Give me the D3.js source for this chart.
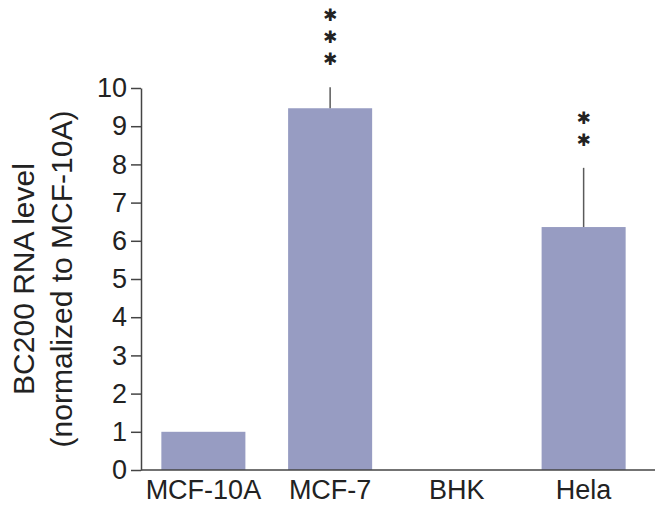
<!DOCTYPE html>
<html>
<head>
<meta charset="utf-8">
<script src="https://cdn.jsdelivr.net/npm/d3@7"></script>
<style>
  html, body { margin: 0; padding: 0; background: #fff; }
  svg { display: block; }
  text { font-family: "Liberation Sans", Arial, sans-serif; fill: #222; }
</style>
</head>
<body>
<svg id="chart" width="667" height="516"></svg>
<script>
const categories = ["MCF-10A", "MCF-7", "BHK", "Hela"];
const values = [1.0, 9.47, 0, 6.36];
const errorTops = [null, 10.02, null, 7.91];
const stars = [0, 3, 0, 2];
const yTicks = [0, 1, 2, 3, 4, 5, 6, 7, 8, 9, 10];
const yTitle = ["BC200 RNA level", "(normalized to MCF-10A)"];

const svg = d3.select("#chart");
const mLeft = 141, mRight = 655, mTop = 88, mBottom = 470;

const x = d3.scaleBand().domain(categories).range([140, 647]).paddingInner(0.337).paddingOuter(0.1685);
const y = d3.scaleLinear().domain([0, 10]).range([mBottom, mTop]);

// bars
svg.append("g").selectAll("rect").data(categories).join("rect")
  .attr("x", d => x(d))
  .attr("width", x.bandwidth())
  .attr("y", (d, i) => y(values[i]))
  .attr("height", (d, i) => y(0) - y(values[i]))
  .attr("fill", "#979cc2");

// error bars (upper only)
svg.append("g").selectAll("line").data(categories.filter((d, i) => errorTops[i] != null)).join("line")
  .attr("x1", d => x(d) + x.bandwidth() / 2)
  .attr("x2", d => x(d) + x.bandwidth() / 2)
  .attr("y1", d => y(values[categories.indexOf(d)]))
  .attr("y2", d => y(errorTops[categories.indexOf(d)]))
  .attr("stroke", "#5a5a5a")
  .attr("stroke-width", 1.5);

// asterisks
categories.forEach((c, i) => {
  for (let k = 0; k < stars[i]; k++) {
    svg.append("text")
      .attr("x", x(c) + x.bandwidth() / 2)
      .attr("y", y(errorTops[i]) - 28 - k * 22)
      .attr("text-anchor", "middle")
      .attr("dominant-baseline", "central")
      .style("font-family", "'DejaVu Sans', sans-serif")
      .style("font-size", "17px")
      .text("✱");
  }
});

// y axis
const yAxis = svg.append("g")
  .attr("transform", `translate(${mLeft},0)`)
  .call(d3.axisLeft(y).tickValues(yTicks).tickSize(10).tickSizeOuter(0).tickPadding(4));
yAxis.select(".domain").attr("stroke", "#444").attr("stroke-width", 1.5);
yAxis.selectAll(".tick line").attr("stroke", "#444").attr("stroke-width", 1.5);
yAxis.selectAll(".tick text").style("font-size", "27px").attr("fill", "#222")
  .style("font-family", "'Liberation Sans', Arial, sans-serif");

// x axis
const xAxis = svg.append("g")
  .attr("transform", `translate(0,${mBottom})`)
  .call(d3.axisBottom(x).tickSize(0).tickPadding(10));
xAxis.select(".domain").remove();
xAxis.selectAll(".tick text").style("font-size", "27px").attr("fill", "#222")
  .style("font-family", "'Liberation Sans', Arial, sans-serif");
svg.append("line")
  .attr("x1", mLeft).attr("x2", mRight)
  .attr("y1", mBottom).attr("y2", mBottom)
  .attr("stroke", "#444").attr("stroke-width", 1.5);

// y title
const cy = (mTop + mBottom) / 2;
[34, 72].forEach((bx, i) => {
  svg.append("text")
    .attr("transform", `translate(${bx},${cy}) rotate(-90)`)
    .attr("text-anchor", "middle")
    .style("font-size", "30px")
    .text(yTitle[i]);
});
</script>
</body>
</html>
